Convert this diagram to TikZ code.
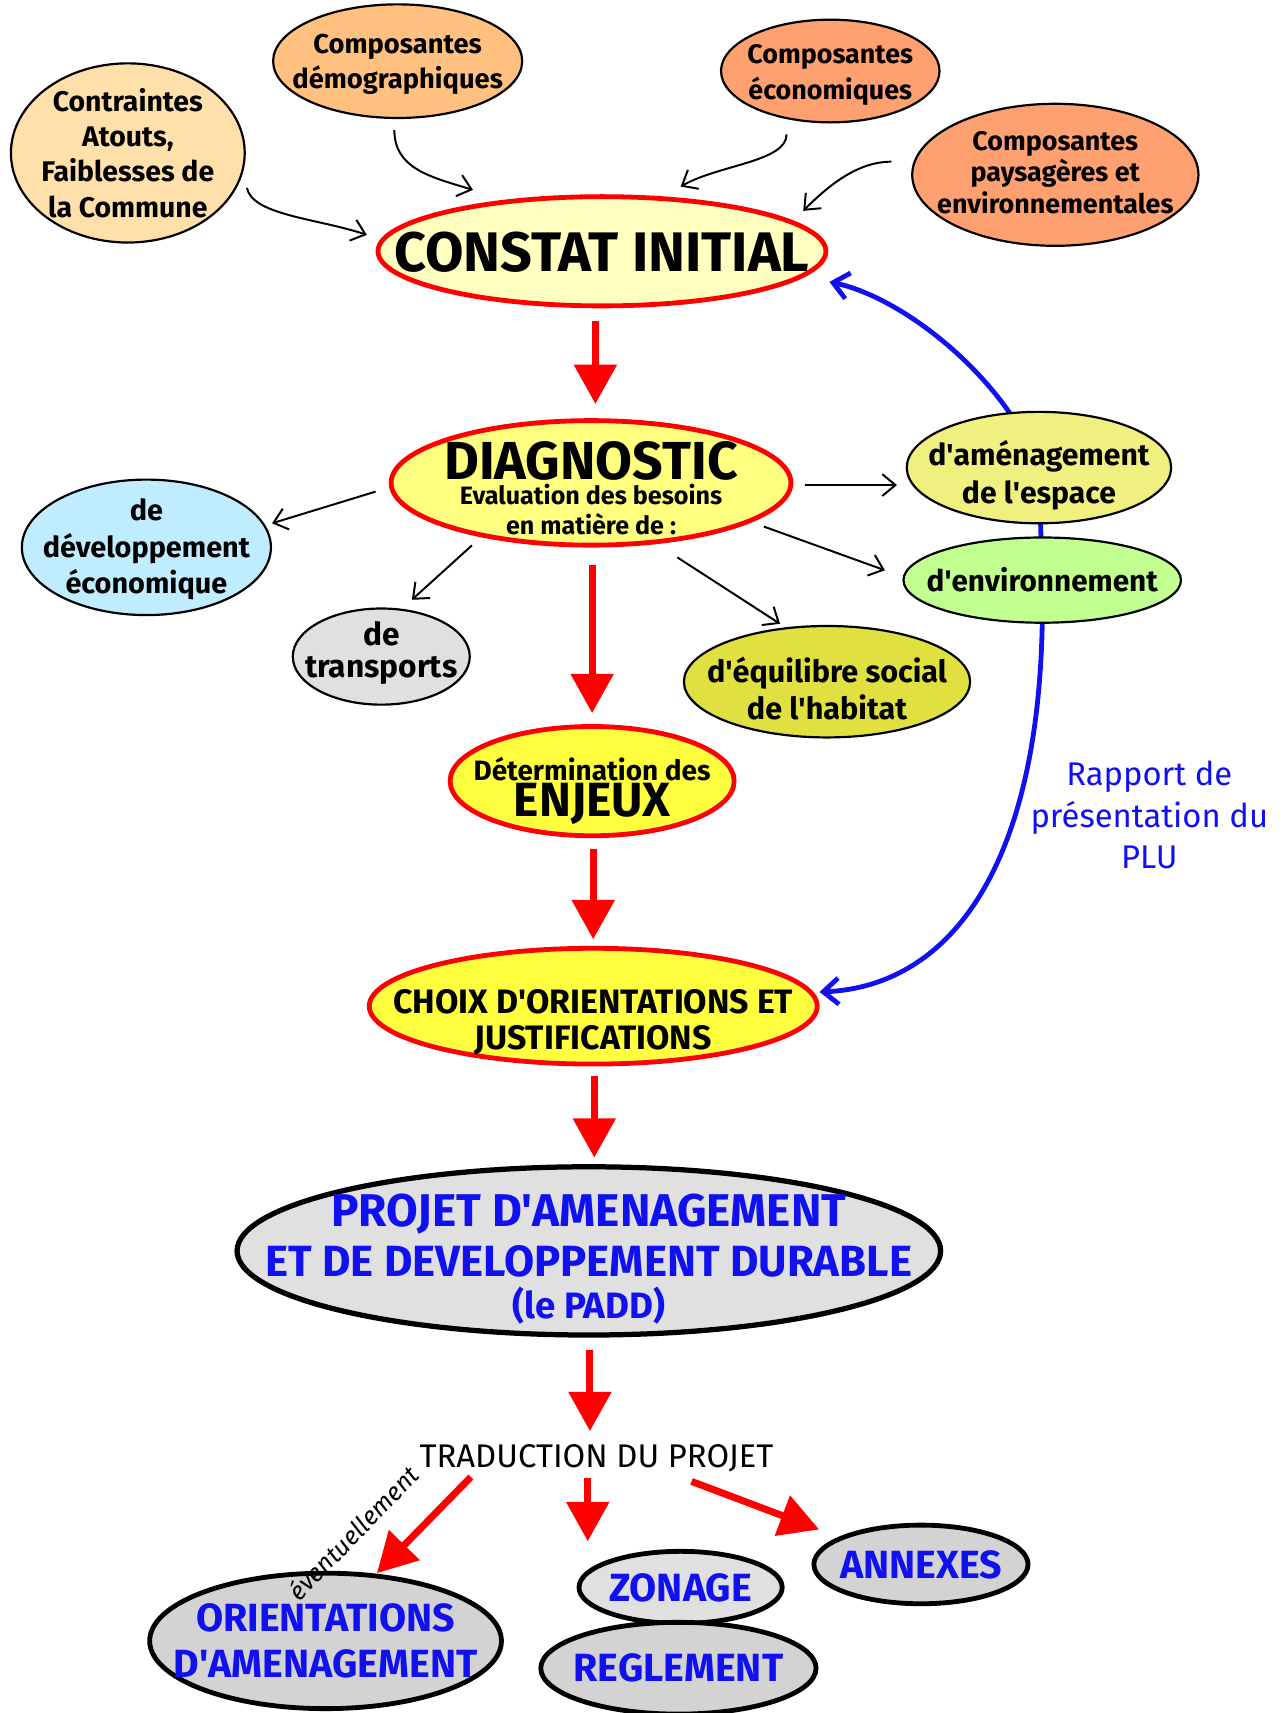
\documentclass[tikz,border=0pt]{standalone}
\usepackage{fontspec}
\setmainfont{Fira Sans}
\usetikzlibrary{arrows.meta,calc,backgrounds,shapes.geometric}
\definecolor{cContr}{HTML}{FFDFAA}
\definecolor{cDemo}{HTML}{FFC080}
\definecolor{cEco}{HTML}{FFA070}
\definecolor{cConst}{HTML}{FFFFC0}
\definecolor{cDiag}{HTML}{FFFF80}
\definecolor{cDevEco}{HTML}{C0ECFF}
\definecolor{cGrey}{HTML}{E0E0E0}
\definecolor{cGreyD}{HTML}{D3D3D3}
\definecolor{cAmen}{HTML}{F0F080}
\definecolor{cEnv}{HTML}{C0FF90}
\definecolor{cEqui}{HTML}{E0E040}
\definecolor{cEnj}{HTML}{FFFF40}
\definecolor{cRed}{HTML}{FF0000}
\definecolor{cBlue}{HTML}{1010F0}
\newcommand\fsz[2]{\fontsize{#1}{#2}\selectfont}
\newcommand\q{\textquotesingle}
\begin{document}
\begin{tikzpicture}[x=0.5pt,y=-0.5pt,
  bub/.style={ellipse, draw=black, line width=1pt, inner sep=0pt},
  redbub/.style={ellipse, draw=cRed, line width=2.2pt, inner sep=0pt},
  thickbub/.style={ellipse, draw=black, line width=2.2pt, inner sep=0pt},
  lab/.style={align=center, inner sep=0pt, text=black},
  blab/.style={align=center, inner sep=0pt, text=cBlue},
  thinarr/.style={draw=black, line width=0.9pt, -{Straight Barb[length=6pt,width=10pt]}},
  redarr/.style={draw=cRed, line width=3.2pt, -{Triangle[length=18pt,width=19pt]}},
  bluearr/.style={draw=cBlue, line width=2.2pt, {Straight Barb[length=7pt,width=12pt]}-{Straight Barb[length=7pt,width=12pt]}}
]
\useasboundingbox (0,0) rectangle (1178,1568);

% top nodes
\node[bub, fill=cContr, minimum width=107pt, minimum height=82pt,
  label={[lab,font=\bfseries\fsz{13}{16.2}]center:{Contraintes\\Atouts,\\Faiblesses de\\la Commune}}] (contr) at (117,140) {};
\node[bub, fill=cDemo, minimum width=114pt, minimum height=52pt,
  label={[lab,font=\bfseries\fsz{12.5}{16},yshift=-1.5pt]center:{Composantes\\démographiques}}] (demo) at (364,56) {};
\node[bub, fill=cEco, minimum width=100pt, minimum height=47pt,
  label={[lab,font=\bfseries\fsz{12.3}{16.5},yshift=-2pt]center:{Composantes\\économiques}}] (eco) at (760,65) {};
\node[bub, fill=cEco, minimum width=131pt, minimum height=65pt,
  label={[lab,font=\bfseries\fsz{12.3}{14.5},yshift=1pt]center:{Composantes\\paysagères et\\environnementales}}] (pays) at (966,160) {};

\node[redbub, fill=cConst, minimum width=205pt, minimum height=50pt,
  label={[lab,font=\bfseries\fsz{25.5}{26},yshift=-0.5pt]center:{CONSTAT INITIAL}}] (constat) at (551,230) {};

\node[redbub, fill=cDiag, minimum width=183pt, minimum height=57pt,
  label={[lab,font=\bfseries\fsz{24.5}{26},yshift=10pt]center:{DIAGNOSTIC}},
  label={[lab,font=\bfseries\fsz{11.5}{13},yshift=-5.5pt]center:{Evaluation des besoins}},
  label={[lab,font=\bfseries\fsz{11.5}{13},yshift=-19pt]center:{en matière de :}}] (diag) at (541,442) {};

\node[bub, fill=cDevEco, minimum width=114pt, minimum height=62pt,
  label={[lab,font=\bfseries\fsz{13.2}{16.8},yshift=-1pt]center:{de\\développement\\économique}}] (deveco) at (134,501) {};
\node[bub, fill=cGrey, minimum width=81pt, minimum height=44pt,
  label={[lab,font=\bfseries\fsz{14.5}{14.5},yshift=1.5pt]center:{de\\transports}}] (transp) at (349,601) {};
\node[bub, fill=cAmen, minimum width=121pt, minimum height=51pt,
  label={[lab,font=\bfseries\fsz{13.8}{17},yshift=-3.5pt]center:{d\q aménagement\\de l\q espace}}] (amen) at (951,428) {};
\node[bub, fill=cEnv, minimum width=127pt, minimum height=39pt,
  label={[lab,font=\bfseries\fsz{13.6}{16}]center:{d\q environnement}}] (envi) at (954,531) {};
\node[bub, fill=cEqui, minimum width=131pt, minimum height=51pt,
  label={[lab,font=\bfseries\fsz{14}{17},yshift=-3pt]center:{d\q équilibre social\\de l\q habitat}}] (equi) at (757,624) {};

\node[redbub, fill=cEnj, minimum width=130pt, minimum height=50pt,
  label={[lab,font=\bfseries\fsz{12.8}{14},yshift=5.5pt]center:{Détermination des}},
  label={[lab,font=\bfseries\fsz{22}{24},yshift=-10.5pt]center:{ENJEUX}}] (enjeux) at (542,715) {};

\node[redbub, fill=cEnj, minimum width=205pt, minimum height=53pt,
  label={[lab,font=\bfseries\fsz{15.5}{16.5},yshift=-7.5pt]center:{CHOIX D\q ORIENTATIONS ET\\JUSTIFICATIONS}}] (choix) at (543,921) {};

\node[thickbub, fill=cGrey, minimum width=322pt, minimum height=77pt, line width=2.4pt,
  label={[blab,font=\bfseries\fsz{21}{22},yshift=17pt]center:{PROJET D\q AMENAGEMENT}},
  label={[blab,font=\bfseries\fsz{20}{22},yshift=-5pt]center:{ET DE DEVELOPPEMENT DURABLE}},
  label={[blab,font=\bfseries\fsz{16.8}{20},yshift=-25pt]center:{(le PADD)}}] (padd) at (539,1145) {};

\node[font=\fsz{15}{16}, inner sep=0pt] (trad) at (546,1335) {TRADUCTION DU PROJET};

\node[thickbub, fill=cGreyD, minimum width=161pt, minimum height=62pt,
  label={[blab,font=\bfseries\fsz{18}{21}]center:{ORIENTATIONS\\D\q AMENAGEMENT}}] (orient) at (298,1502) {};
\node[thickbub, fill=cGrey, minimum width=93pt, minimum height=33pt,
  label={[blab,font=\bfseries\fsz{18}{20}]center:{ZONAGE}}] (zonage) at (623,1453) {};
\node[thickbub, fill=cGreyD, minimum width=126pt, minimum height=42pt,
  label={[blab,font=\bfseries\fsz{18}{20}]center:{REGLEMENT}}] (regl) at (621,1527) {};
\node[thickbub, fill=cGreyD, minimum width=98pt, minimum height=36pt,
  label={[blab,font=\bfseries\fsz{18}{20}]center:{ANNEXES}}] (annexes) at (843,1432) {};

\node[blab, font=\fsz{15}{19}] (rapport) at (1052,746)
  {Rapport de\\présentation du\\PLU};

\node[rotate=46, font=\itshape\fsz{11.5}{12}, inner sep=0pt] (event) at (323,1403) {éventuellement};

% thin black arrows
\draw[thinarr] ($(contr.east)+(1,32)$) .. controls +(5,25) and +(-45,-15) .. ($(constat.west)+(-8,-15)$);
\draw[thinarr] ($(demo.south)+(-3,10)$) .. controls +(0,35) and +(-40,-12) .. ($(constat.north)+(-118,-4)$);
\draw[thinarr] ($(eco.south)+(-40,10)$) .. controls +(0,25) and +(35,-20) .. ($(constat.north)+(72,-7)$);
\draw[thinarr] ($(pays.west)+(-18,-12)$) .. controls +(-30,0) and +(25,-25) .. ($(constat.east)+(-23,-37)$);

\draw[thinarr] ($(diag.west)+(-12,8)$) -- ($(deveco.east)+(0,-22)$);
\draw[thinarr] ($(diag.south)+(-109,-2)$) -- ($(transp.north)+(28,-7)$);
\draw[thinarr] ($(diag.south)+(79,9)$) -- ($(equi.north)+(-43,-1)$);
\draw[thinarr] ($(diag.east)+(11,2)$) -- ($(amen.west)+(-8,16)$);
\draw[thinarr] ($(diag.east)+(-27,40)$) -- ($(envi.west)+(-16,-9)$);

% red arrows
\draw[redarr] ($(constat.south)+(-6,12)$) -- ($(diag.north)+(4,-13)$);
\draw[redarr] ($(diag.south)+(1,16)$) -- ($(enjeux.north)+(0,-10)$);
\draw[redarr] ($(enjeux.south)+(1,10)$) -- ($(choix.north)+(0,-6)$);
\draw[redarr] ($(choix.south)+(1,9)$) -- ($(padd.north)+(5,-6)$);
\draw[redarr] ($(padd.south)+(1,11)$) -- ($(trad.center)+(-6,-25)$);
\draw[redarr] ($(trad.center)+(-115,17)$) -- ($(orient.center)+(47,-62)$);
\draw[redarr] ($(trad.center)+(-8,18)$) -- ($(zonage.north)+(-85,-7)$);
\draw[redarr] ($(trad.center)+(87,21)$) -- ($(annexes.west)+(7,-32)$);

% blue curve behind nodes
\begin{pgfonlayer}{background}
\coordinate (bA) at ($(constat.east)+(1,28)$);
\coordinate (bB) at ($(choix.east)+(0,-13)$);
\draw[bluearr] (bA) .. controls +(70,15) and +(-30,-80) .. (amen.center) -- (envi.center)
  .. controls +(5,260) and +(120,-5) .. (bB);
\end{pgfonlayer}
\end{tikzpicture}
\end{document}
